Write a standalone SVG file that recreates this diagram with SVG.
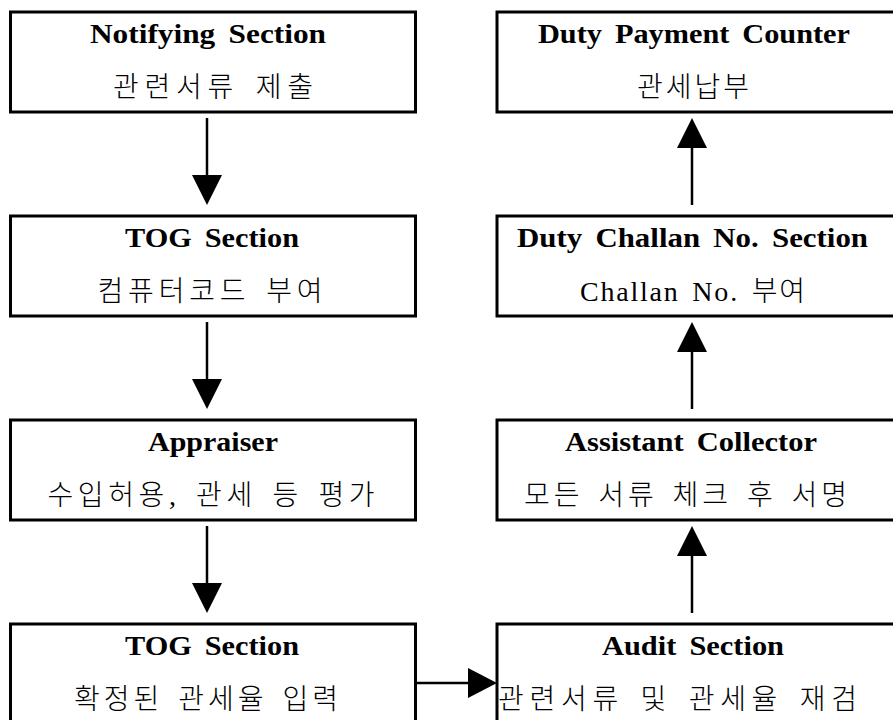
<svg xmlns="http://www.w3.org/2000/svg" width="893" height="720" viewBox="0 0 893 720">
<style>
.box{fill:#fff;stroke:#000;stroke-width:3}
.t{font-family:"Liberation Serif","Noto Sans CJK KR",serif;font-weight:bold;font-size:28px;text-anchor:middle;fill:#000;word-spacing:5px}
.k{font-family:"Liberation Serif","Noto Sans CJK KR",serif;font-weight:300;font-size:28px;text-anchor:middle;fill:#000;word-spacing:4px}
.ln{stroke:#000;stroke-width:2.5;fill:none}
.hd{fill:#000}
</style>
<rect width="893" height="720" fill="#fff"/>
<g id="connectors">
<line class="ln" x1="207" y1="118" x2="207" y2="178"/><polygon class="hd" points="192,175 222,175 207,205"/>
<line class="ln" x1="207" y1="322" x2="207" y2="382"/><polygon class="hd" points="192,379 222,379 207,409"/>
<line class="ln" x1="207" y1="526" x2="207" y2="586"/><polygon class="hd" points="192,583 222,583 207,613"/>
<line class="ln" x1="692" y1="145" x2="692" y2="205"/><polygon class="hd" points="677,148 707,148 692,118"/>
<line class="ln" x1="692" y1="349" x2="692" y2="409"/><polygon class="hd" points="677,352 707,352 692,322"/>
<line class="ln" x1="692" y1="553" x2="692" y2="613"/><polygon class="hd" points="677,556 707,556 692,526"/>
<line class="ln" x1="416" y1="683" x2="471" y2="683"/><polygon class="hd" points="468,668 468,698 497,683"/>
</g>
<g id="n1"><rect class="box" x="10.5" y="12" width="405" height="100"/>
<text class="t" x="208" y="43" textLength="236" lengthAdjust="spacingAndGlyphs">Notifying Section</text>
<text class="k" x="213" y="97" textLength="200">관련서류 제출</text></g>
<g id="n2"><rect class="box" x="10.5" y="216" width="405" height="100"/>
<text class="t" x="212" y="247" textLength="174" lengthAdjust="spacingAndGlyphs">TOG Section</text>
<text class="k" x="210" y="301" textLength="225">컴퓨터코드 부여</text></g>
<g id="n3"><rect class="box" x="10.5" y="420" width="405" height="100"/>
<text class="t" x="213" y="451" textLength="130" lengthAdjust="spacingAndGlyphs">Appraiser</text>
<text class="k" x="211" y="505" textLength="327">수입허용, 관세 등 평가</text></g>
<g id="n4"><rect class="box" x="10.5" y="624" width="405" height="100"/>
<text class="t" x="212" y="655" textLength="174" lengthAdjust="spacingAndGlyphs">TOG Section</text>
<text class="k" x="206" y="709" textLength="264">확정된 관세율 입력</text></g>
<g id="n5"><rect class="box" x="497" y="12" width="406" height="100"/>
<text class="t" x="694" y="43" textLength="312" lengthAdjust="spacingAndGlyphs">Duty Payment Counter</text>
<text class="k" x="693" y="97" textLength="112">관세납부</text></g>
<g id="n6"><rect class="box" x="497" y="216" width="406" height="100"/>
<text class="t" x="692.5" y="247" textLength="351" lengthAdjust="spacingAndGlyphs">Duty Challan No. Section</text>
<text class="k" x="692.5" y="301" textLength="225">Challan No. 부여</text></g>
<g id="n7"><rect class="box" x="497" y="420" width="406" height="100"/>
<text class="t" x="691" y="451" textLength="252" lengthAdjust="spacingAndGlyphs">Assistant Collector</text>
<text class="k" x="685.5" y="505" textLength="323">모든 서류 체크 후 서명</text></g>
<g id="n8"><rect class="box" x="497" y="624" width="406" height="100"/>
<text class="t" x="693" y="655" textLength="182" lengthAdjust="spacingAndGlyphs">Audit Section</text>
<text class="k" x="677.5" y="709" textLength="359">관련서류 및 관세율 재검</text></g>
</svg>
